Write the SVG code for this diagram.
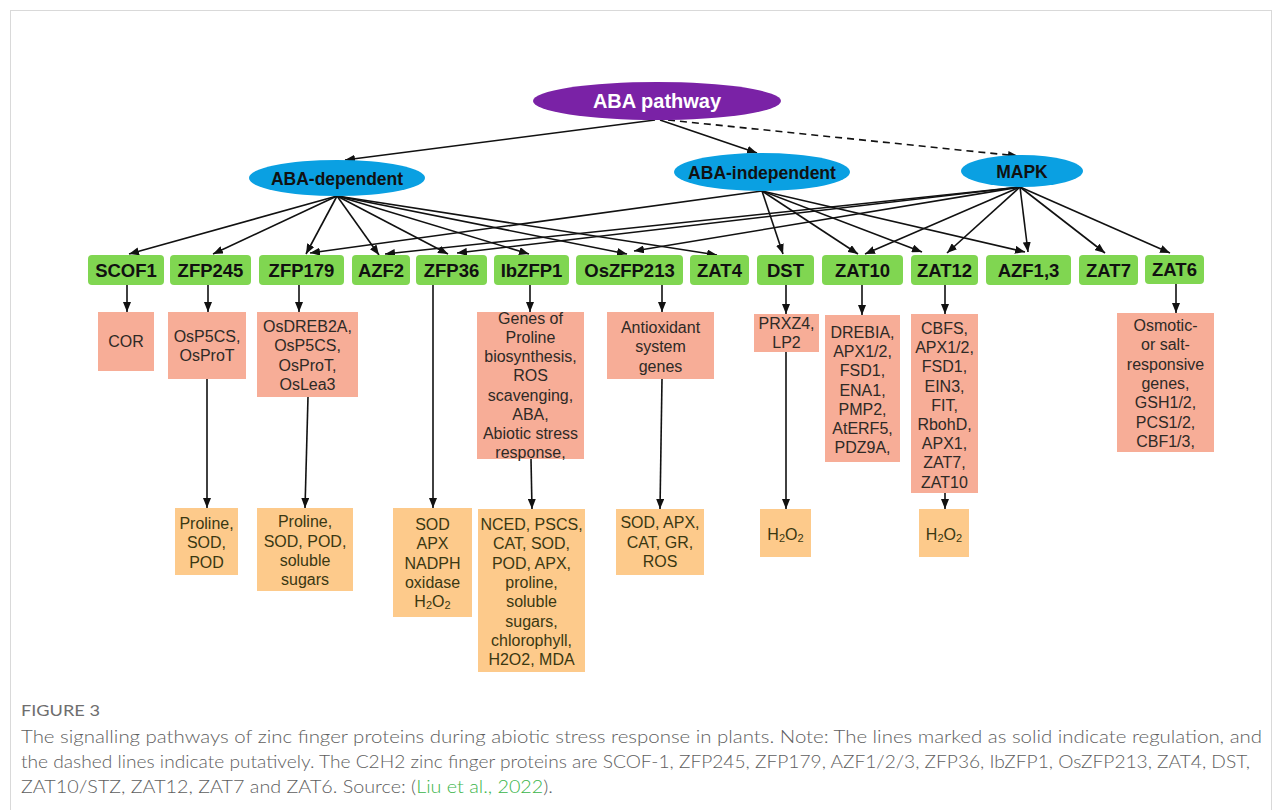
<svg xmlns="http://www.w3.org/2000/svg" width="1282" height="810" viewBox="0 0 1282 810">
<defs>
<marker id="ah" markerUnits="userSpaceOnUse" markerWidth="10" markerHeight="8" refX="10" refY="4" orient="auto"><path d="M0,0 L10,4 L0,8 z" fill="#111"/></marker>
<style>
.frame{fill:#fff;stroke:#d9d9d9;stroke-width:1}
.c{stroke:#111;stroke-width:1.6;fill:none;marker-end:url(#ah)}
.d{stroke:#111;stroke-width:1.6;fill:none;stroke-dasharray:7,5;marker-end:url(#ah)}
.g rect{fill:#80d651}
.g text{font-family:"Liberation Sans",Arial,sans-serif;font-weight:bold;font-size:18.5px;fill:#111;text-anchor:middle}
.p rect{fill:#f7ad97}
.p text{font-family:"Liberation Sans",Arial,sans-serif;font-size:16px;fill:#2e2a26;text-anchor:middle}
.o rect{fill:#fdca8b}
.o text{font-family:"Liberation Sans",Arial,sans-serif;font-size:16px;fill:#3a3812;text-anchor:middle}
.e text{font-family:"Liberation Sans",Arial,sans-serif;font-weight:bold;font-size:17.5px;fill:#111;text-anchor:middle}
.cap{font-family:"Lato","Open Sans",sans-serif;font-weight:300;fill:#5e5e5e}
</style>
</defs>
<rect class="frame" x="10.5" y="10.5" width="1261" height="830"/>

<g id="connectors">
<line class="c" x1="655" y1="120" x2="345" y2="160"/>
<line class="c" x1="660" y1="120" x2="757" y2="153"/>
<line class="d" x1="668" y1="120" x2="1018" y2="156"/>
<line class="c" x1="337" y1="196" x2="129" y2="254"/>
<line class="c" x1="337" y1="196" x2="213" y2="254"/>
<line class="c" x1="337" y1="196" x2="306" y2="254"/>
<line class="c" x1="337" y1="196" x2="379" y2="255"/>
<line class="c" x1="337" y1="196" x2="448" y2="254"/>
<line class="c" x1="337" y1="196" x2="529" y2="254"/>
<line class="c" x1="337" y1="196" x2="627" y2="254"/>
<line class="c" x1="337" y1="196" x2="717" y2="255"/>
<line class="c" x1="762" y1="191" x2="310" y2="253"/>
<line class="c" x1="762" y1="191" x2="783" y2="254"/>
<line class="c" x1="762" y1="191" x2="858" y2="254"/>
<line class="c" x1="762" y1="191" x2="922" y2="252"/>
<line class="c" x1="762" y1="191" x2="1025" y2="252"/>
<line class="c" x1="1020" y1="187" x2="385" y2="254"/>
<line class="c" x1="1020" y1="187" x2="457" y2="253"/>
<line class="c" x1="1020" y1="187" x2="634" y2="251"/>
<line class="c" x1="1020" y1="187" x2="865" y2="254"/>
<line class="c" x1="1020" y1="187" x2="947" y2="253"/>
<line class="c" x1="1020" y1="187" x2="1028" y2="252"/>
<line class="c" x1="1020" y1="187" x2="1105" y2="253"/>
<line class="c" x1="1020" y1="187" x2="1170" y2="253"/>
<line class="c" x1="127" y1="285" x2="127" y2="312"/>
<line class="c" x1="208" y1="285" x2="208" y2="312"/>
<line class="c" x1="207" y1="379" x2="207" y2="508"/>
<line class="c" x1="299" y1="285" x2="299" y2="312"/>
<line class="c" x1="308" y1="397" x2="305" y2="508"/>
<line class="c" x1="433" y1="285" x2="433" y2="508"/>
<line class="c" x1="530" y1="285" x2="530" y2="312"/>
<line class="c" x1="531" y1="459" x2="532" y2="509"/>
<line class="c" x1="662" y1="285" x2="662" y2="312"/>
<line class="c" x1="662" y1="379" x2="660" y2="509"/>
<line class="c" x1="786" y1="285" x2="786" y2="314"/>
<line class="c" x1="786" y1="352" x2="786" y2="509"/>
<line class="c" x1="862" y1="285" x2="862" y2="315"/>
<line class="c" x1="945" y1="285" x2="945" y2="314"/>
<line class="c" x1="945" y1="493" x2="945" y2="509"/>
<line class="c" x1="1176" y1="284" x2="1176" y2="313"/>
</g>

<g id="aba-pathway" class="e"><ellipse cx="657" cy="101" rx="124" ry="19" fill="#7a22a6"/><text x="657" y="108" style="fill:#fff;font-size:20px">ABA pathway</text></g>
<g id="aba-dependent" class="e"><ellipse cx="337" cy="178" rx="88" ry="18" fill="#0aa0e2"/><text x="337" y="184.5">ABA-dependent</text></g>
<g id="aba-independent" class="e"><ellipse cx="762" cy="172" rx="88" ry="19" fill="#0aa0e2"/><text x="762" y="178.5">ABA-independent</text></g>
<g id="mapk" class="e"><ellipse cx="1022" cy="171" rx="61" ry="16" fill="#0aa0e2"/><text x="1022" y="177.5">MAPK</text></g>

<g id="scof1" class="g"><rect x="88" y="255" width="76" height="30" rx="4"/><text x="126" y="276.5">SCOF1</text></g>
<g id="zfp245" class="g"><rect x="170" y="255" width="81" height="30" rx="4"/><text x="210.5" y="276.5">ZFP245</text></g>
<g id="zfp179" class="g"><rect x="259" y="255" width="85" height="30" rx="4"/><text x="301.5" y="276.5">ZFP179</text></g>
<g id="azf2" class="g"><rect x="352" y="255" width="58" height="30" rx="4"/><text x="381" y="276.5">AZF2</text></g>
<g id="zfp36" class="g"><rect x="416" y="255" width="71" height="30" rx="4"/><text x="451.5" y="276.5">ZFP36</text></g>
<g id="ibzfp1" class="g"><rect x="494" y="255" width="75" height="30" rx="4"/><text x="531.5" y="276.5">IbZFP1</text></g>
<g id="oszfp213" class="g"><rect x="576" y="255" width="107" height="30" rx="4"/><text x="629.5" y="276.5">OsZFP213</text></g>
<g id="zat4" class="g"><rect x="690" y="255" width="59" height="30" rx="4"/><text x="719.5" y="276.5">ZAT4</text></g>
<g id="dst" class="g"><rect x="757" y="255" width="57" height="30" rx="4"/><text x="785.5" y="276.5">DST</text></g>
<g id="zat10" class="g"><rect x="822" y="255" width="81" height="30" rx="4"/><text x="862.5" y="276.5">ZAT10</text></g>
<g id="zat12" class="g"><rect x="911" y="255" width="67" height="30" rx="4"/><text x="944.5" y="276.5">ZAT12</text></g>
<g id="azf13" class="g"><rect x="986" y="255" width="85" height="30" rx="4"/><text x="1028.5" y="276.5">AZF1,3</text></g>
<g id="zat7" class="g"><rect x="1079" y="255" width="59" height="30" rx="4"/><text x="1108.5" y="276.5">ZAT7</text></g>
<g id="zat6" class="g"><rect x="1145" y="255" width="59" height="29" rx="4"/><text x="1174.5" y="276">ZAT6</text></g>

<g id="cor" class="p"><rect x="98" y="312" width="56" height="59"/><text x="126" y="347">COR</text></g>
<g id="osp5cs" class="p"><rect x="168" y="312" width="78" height="67"/><text x="207" y="342.4">OsP5CS,</text><text x="207" y="361.4">OsProT</text></g>
<g id="osdreb2a" class="p"><rect x="257" y="312" width="101" height="85"/><text x="307.5" y="332.4">OsDREB2A,</text><text x="307.5" y="351.4">OsP5CS,</text><text x="307.5" y="370.7">OsProT,</text><text x="307.5" y="389.7">OsLea3</text></g>
<g id="genes-proline" class="p"><rect x="477" y="312" width="107" height="147"/><text x="530.5" y="323.5">Genes of</text><text x="530.5" y="342.8">Proline</text><text x="530.5" y="362.1">biosynthesis,</text><text x="530.5" y="381.4">ROS</text><text x="530.5" y="400.7">scavenging,</text><text x="530.5" y="420">ABA,</text><text x="530.5" y="439.3">Abiotic stress</text><text x="530.5" y="458.3">response,</text></g>
<g id="antioxidant" class="p"><rect x="607" y="312" width="107" height="67"/><text x="660.5" y="333">Antioxidant</text><text x="660.5" y="352.3">system</text><text x="660.5" y="371.5">genes</text></g>
<g id="prxz4" class="p"><rect x="754" y="314" width="65" height="38"/><text x="786.5" y="329">PRXZ4,</text><text x="786.5" y="348">LP2</text></g>
<g id="drebia" class="p"><rect x="825" y="315" width="75" height="147"/><text x="862.5" y="338">DREBIA,</text><text x="862.5" y="357.2">APX1/2,</text><text x="862.5" y="376.4">FSD1,</text><text x="862.5" y="395.6">ENA1,</text><text x="862.5" y="414.8">PMP2,</text><text x="862.5" y="434">AtERF5,</text><text x="862.5" y="453.2">PDZ9A,</text></g>
<g id="cbfs" class="p"><rect x="911" y="314" width="67" height="179"/><text x="944.5" y="334">CBFS,</text><text x="944.5" y="353.2">APX1/2,</text><text x="944.5" y="372.4">FSD1,</text><text x="944.5" y="391.6">EIN3,</text><text x="944.5" y="410.8">FIT,</text><text x="944.5" y="430">RbohD,</text><text x="944.5" y="449.2">APX1,</text><text x="944.5" y="468.4">ZAT7,</text><text x="944.5" y="487.6">ZAT10</text></g>
<g id="osmotic" class="p"><rect x="1117" y="313" width="97" height="139"/><text x="1165.5" y="331">Osmotic-</text><text x="1165.5" y="350.3">or salt-</text><text x="1165.5" y="369.6">responsive</text><text x="1165.5" y="388.9">genes,</text><text x="1165.5" y="408.2">GSH1/2,</text><text x="1165.5" y="427.5">PCS1/2,</text><text x="1165.5" y="446.8">CBF1/3,</text></g>

<g id="proline-sod-pod" class="o"><rect x="175" y="508" width="63" height="67"/><text x="206.5" y="529">Proline,</text><text x="206.5" y="548.3">SOD,</text><text x="206.5" y="567.5">POD</text></g>
<g id="proline-sugars" class="o"><rect x="257" y="508" width="96" height="83"/><text x="305" y="527.4">Proline,</text><text x="305" y="546.7">SOD, POD,</text><text x="305" y="566">soluble</text><text x="305" y="585">sugars</text></g>
<g id="sod-apx-nadph" class="o"><rect x="393" y="508" width="79" height="109"/><text x="432.5" y="530">SOD</text><text x="432.5" y="549.3">APX</text><text x="432.5" y="568.6">NADPH</text><text x="432.5" y="587.9">oxidase</text><text x="432.5" y="607.2">H<tspan font-size="11" dy="2">2</tspan><tspan dy="-2">O</tspan><tspan font-size="11" dy="2">2</tspan></text></g>
<g id="nced" class="o"><rect x="478" y="509" width="107" height="163"/><text x="531.5" y="530">NCED, PSCS,</text><text x="531.5" y="549.3">CAT, SOD,</text><text x="531.5" y="568.6">POD, APX,</text><text x="531.5" y="587.9">proline,</text><text x="531.5" y="607.2">soluble</text><text x="531.5" y="626.5">sugars,</text><text x="531.5" y="645.8">chlorophyll,</text><text x="531.5" y="665">H2O2, MDA</text></g>
<g id="sod-apx-cat" class="o"><rect x="616" y="509" width="88" height="66"/><text x="660" y="528.4">SOD, APX,</text><text x="660" y="547.7">CAT, GR,</text><text x="660" y="567">ROS</text></g>
<g id="h2o2-dst" class="o"><rect x="760" y="509" width="51" height="48"/><text x="785.5" y="539.5">H<tspan font-size="11" dy="2">2</tspan><tspan dy="-2">O</tspan><tspan font-size="11" dy="2">2</tspan></text></g>
<g id="h2o2-zat12" class="o"><rect x="919" y="509" width="50" height="48"/><text x="944" y="539.5">H<tspan font-size="11" dy="2">2</tspan><tspan dy="-2">O</tspan><tspan font-size="11" dy="2">2</tspan></text></g>

<g id="caption">
<text class="cap" x="21" y="716" font-size="15" textLength="79" lengthAdjust="spacingAndGlyphs" style="font-weight:400;fill:#6e6e6e">FIGURE 3</text>
<text class="cap" x="21" y="743" font-size="17.5" textLength="1241" lengthAdjust="spacingAndGlyphs">The signalling pathways of zinc finger proteins during abiotic stress response in plants. Note: The lines marked as solid indicate regulation, and</text>
<text class="cap" x="21" y="768" font-size="17.5" textLength="1229" lengthAdjust="spacingAndGlyphs">the dashed lines indicate putatively. The C2H2 zinc finger proteins are SCOF-1, ZFP245, ZFP179, AZF1/2/3, ZFP36, IbZFP1, OsZFP213, ZAT4, DST,</text>
<text class="cap" x="21" y="793" font-size="17.5" textLength="532" lengthAdjust="spacingAndGlyphs">ZAT10/STZ, ZAT12, ZAT7 and ZAT6. Source: (<tspan style="fill:#3bb54a">Liu et al., 2022</tspan>).</text>
</g>
</svg>
